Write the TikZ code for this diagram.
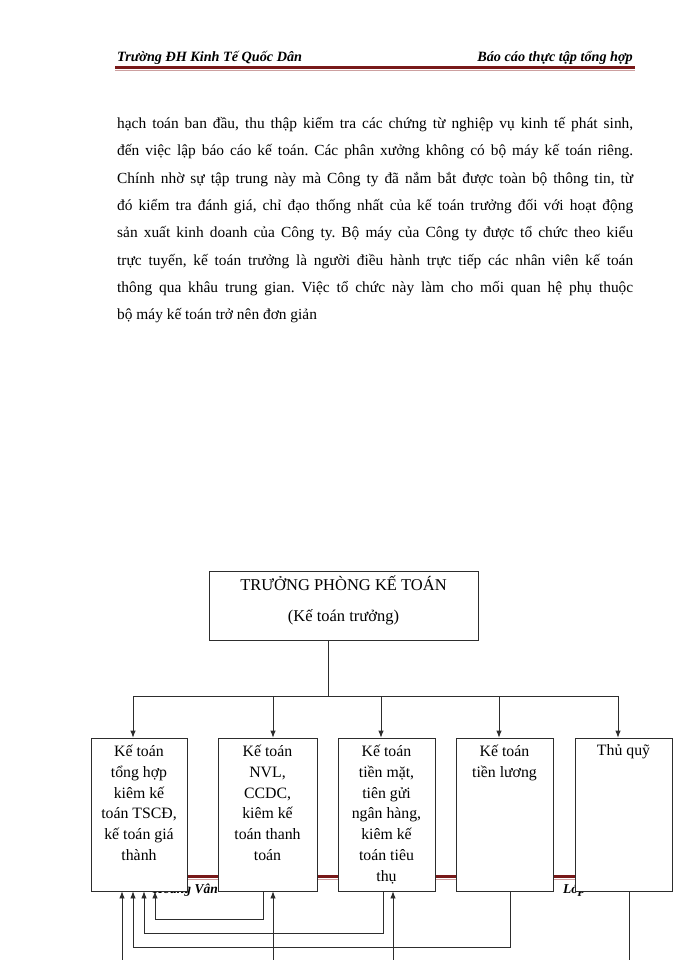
\documentclass[tikz,border=0pt]{standalone}
\usepackage{fontspec}
\setmainfont{Liberation Serif}
\usetikzlibrary{positioning,arrows.meta}
\definecolor{rulered}{RGB}{120,25,25}
\definecolor{rulepale}{RGB}{205,160,160}
\definecolor{ink}{RGB}{45,45,45}
\frenchspacing
\tikzset{
  box/.style={draw=ink, fill=white, line width=0.8pt, minimum height=153pt, inner sep=0pt},
  boxtext/.style={anchor=north, align=center, inner sep=0pt, font=\fontsize{15.8}{20.9}\selectfont},
  pagetag/.style={inner sep=0pt, font=\fontsize{14.2}{17}\selectfont\bfseries\itshape},
  bodyline/.style={anchor=base west, inner sep=0pt, font=\fontsize{15.4}{27}\selectfont},
  link/.style={draw=ink, line width=0.8pt}
}

\begin{document}
\begin{tikzpicture}[x=1pt, y=-1pt, >={Latex[length=7pt,width=5.5pt]}]
\useasboundingbox (0,0) rectangle (700,960);
% header
\node[pagetag, anchor=base west] (school) at (117,62) {Trường ĐH Kinh Tế Quốc Dân};
\node[pagetag, anchor=base east] (report) at (633,62) {Báo cáo thực tập tổng hợp};
\draw[rulered, line width=2.2pt] (115,67.5) -- (635,67.5);
\draw[rulepale, line width=0.8pt] (115,70) -- (635,70);

% text
\foreach \ln [count=\i] in {
  {hạch toán ban đầu, thu thập kiểm tra các chứng từ nghiệp vụ kinh tế phát sinh,},
  {đến việc lập báo cáo kế toán. Các phân xưởng không có bộ máy kế toán riêng.},
  {Chính nhờ sự tập trung này mà Công ty đã nắm bắt được toàn bộ thông tin, từ},
  {đó kiểm tra đánh giá, chỉ đạo thống nhất của kế toán trưởng đối với hoạt động},
  {sản xuất kinh doanh của Công ty. Bộ máy của Công ty được tổ chức theo kiểu},
  {trực tuyến, kế toán trưởng là người điều hành trực tiếp các nhân viên kế toán},
  {thông qua khâu trung gian. Việc tổ chức này làm cho mối quan hệ phụ thuộc}}
  \node[bodyline] (line\i) at (117,{128.5+27.3*(\i-1)})
    {\hbox to 516pt{\spaceskip=0.25em plus 3em minus 0.05em \ln}};
\node[bodyline] (line8) at (117,{128.5+27.3*7}) {bộ máy kế toán trở nên đơn giản};

% footer (boxes cover most of it)
\draw[rulered, line width=2.2pt] (115,876.5) -- (635,876.5);
\draw[rulepale, line width=0.8pt] (115,879) -- (635,879);
\node[pagetag, font=\fontsize{13.5}{16}\selectfont\bfseries\itshape, anchor=base east] (author) at (218,893) {Hoàng Vân};
\node[pagetag, font=\fontsize{13.5}{16}\selectfont\bfseries\itshape, anchor=base west] (class) at (563,893) {Lớp};

% chart
\node[box, minimum width=269pt, minimum height=69pt] (chief) at (343.5,605.5) {};
\node[boxtext, font=\fontsize{16.5}{31}\selectfont, below=5pt of chief.north] (chieft) {TRƯỞNG PHÒNG KẾ TOÁN\\(Kế toán trưởng)};

\node[box, minimum width=96pt] (kth) at (139,814.5) {};
\node[box, minimum width=99pt] (nvl) at (267.5,814.5) {};
\node[box, minimum width=97pt] (tienmat) at (386.5,814.5) {};
\node[box, minimum width=97pt] (luong) at (504.5,814.5) {};
\node[box, minimum width=97pt] (quy) at (623.5,814.5) {};

\node[boxtext, below=7pt of kth.north] (ktht) {Kế toán\\tổng hợp\\kiêm kế\\toán TSCĐ,\\kế toán giá\\thành};
\node[boxtext, below=7pt of nvl.north] (nvlt) {Kế toán\\NVL,\\CCDC,\\kiêm kế\\toán thanh\\toán};
\node[boxtext, below=7pt of tienmat.north] (tienmatt) {Kế toán\\tiền mặt,\\tiên gửi\\ngân hàng,\\kiêm kế\\toán tiêu\\thụ};
\node[boxtext, below=7pt of luong.north] (luongt) {Kế toán\\tiền lương};
\node[boxtext, below=7pt of quy.north] (quyt) {Thủ quỹ};

% top down
\coordinate (bus) at (328,696);
\coordinate (pgbot) at (0,960);
\draw[link] (chief.south -| bus) -- (bus);
\foreach \b/\d in {kth/-6,nvl/5.5,tienmat/-5.5,luong/-5.5,quy/-5.5}
  \coordinate (in-\b) at ([xshift=\d pt]\b.north);
\draw[link] (in-kth |- bus) -- (in-quy |- bus);
\foreach \b in {kth,nvl,tienmat,luong,quy}
  \draw[link,->] (in-\b |- bus) -- (in-\b);

% returns to kth
\foreach \n/\d in {1/-17,2/-6,3/5,4/16}
  \coordinate (back\n) at ([xshift=\d pt]kth.south);
\coordinate (nvl-out) at ([xshift=-4.5pt]nvl.south);
\coordinate (nvl-up) at ([xshift=5.5pt]nvl.south);
\coordinate (tienmat-out) at ([xshift=-3.5pt]tienmat.south);
\coordinate (tienmat-up) at ([xshift=6.5pt]tienmat.south);
\coordinate (luong-out) at ([xshift=5.5pt]luong.south);
\coordinate (quy-out) at ([xshift=5.5pt]quy.south);
\draw[link,->] (nvl-out) -- ++(0,28) -| (back4);
\draw[link,->] (tienmat-out) -- ++(0,42) -| (back3);
\draw[link,->] (luong-out) -- ++(0,56) -| (back2);
\draw[link,->] (back1 |- pgbot) -- (back1);
\draw[link,->] (nvl-up |- pgbot) -- (nvl-up);
\draw[link,->] (tienmat-up |- pgbot) -- (tienmat-up);
\draw[link] (quy-out) -- (quy-out |- pgbot);

\end{tikzpicture}
\end{document}
